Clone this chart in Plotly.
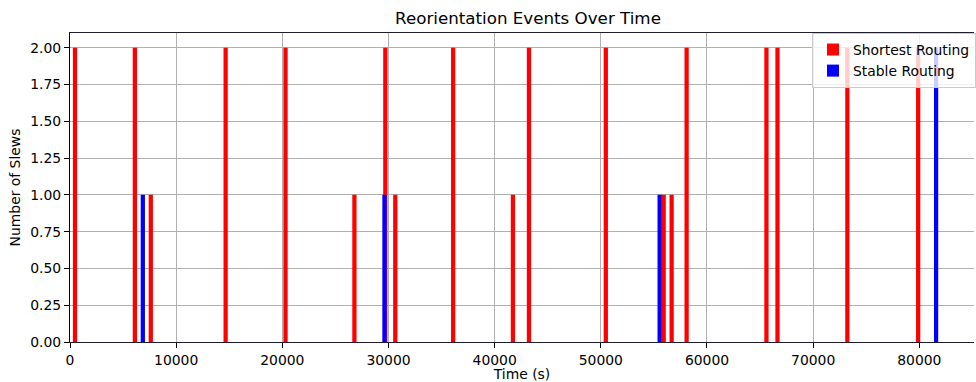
import plotly.graph_objects as go

# Event times (s) and number of slews per event
shortest_times = [470, 6110, 7610, 14660, 20300, 26790, 29700, 30640, 36090, 41720,
                  43230, 50470, 55920, 56670, 58080, 65600, 66640, 73220, 79890]
shortest_counts = [2, 2, 1, 2, 2, 1, 2, 1, 2, 1,
                   2, 2, 1, 1, 2, 2, 2, 2, 2]
stable_times = [6860, 29620, 55540, 81580]
stable_counts = [1, 1, 1, 2]

x_ticks = [0, 10000, 20000, 30000, 40000, 50000, 60000, 70000, 80000]
y_ticks = [0, 0.25, 0.5, 0.75, 1.0, 1.25, 1.5, 1.75, 2.0]

bar_width = 400
font = "DejaVu Sans, Verdana, sans-serif"

fig = go.Figure()
fig.add_trace(go.Bar(x=shortest_times, y=shortest_counts, width=bar_width,
                     marker=dict(color="#ff0000", line=dict(width=0)),
                     name="Shortest Routing"))
fig.add_trace(go.Bar(x=stable_times, y=stable_counts, width=bar_width,
                     marker=dict(color="#0000ff", line=dict(width=0)),
                     name="Stable Routing"))

fig.update_layout(
    width=976, height=382,
    margin=dict(l=70, r=0, t=33, b=40),
    plot_bgcolor="white", paper_bgcolor="white",
    barmode="overlay",
    font=dict(family=font, size=13.9, color="black"),
    title=dict(text="Reorientation Events Over Time", x=0.541, xanchor="center",
               y=0.953, yanchor="middle", font=dict(size=16.7, family=font)),
    legend=dict(x=0.821, y=1.0, xanchor="left", yanchor="top",
                bgcolor="rgba(255,255,255,0.8)", bordercolor="#cccccc", borderwidth=1,
                font=dict(size=13.9, family=font), tracegroupgap=2),
    showlegend=True,
)
fig.update_xaxes(
    range=[0, 85150], tickvals=x_ticks, ticktext=[str(v) for v in x_ticks],
    showgrid=True, gridcolor="#b0b0b0", gridwidth=1,
    showline=True, linecolor="#1e1e30", linewidth=1.1, mirror=True,
    ticks="outside", ticklen=5, tickcolor="black", tickwidth=1.1,
    zeroline=False, layer="above traces",
    title=dict(text="Time (s)", standoff=4, font=dict(size=13.9, family=font)),
)
fig.update_yaxes(
    range=[0, 2.1], tickvals=y_ticks, tickformat=".2f",
    showgrid=True, gridcolor="#b0b0b0", gridwidth=1,
    showline=True, linecolor="black", linewidth=1.1, mirror=False,
    ticks="outside", ticklen=5, tickcolor="black", tickwidth=1.1,
    zeroline=False, layer="above traces",
    title=dict(text="Number of Slews", standoff=6, font=dict(size=13.9, family=font)),
)

fig.write_html(
    "out.html",
    config={"displayModeBar": False},
    post_script="document.body.style.margin='0';document.body.style.overflow='hidden';",
)
